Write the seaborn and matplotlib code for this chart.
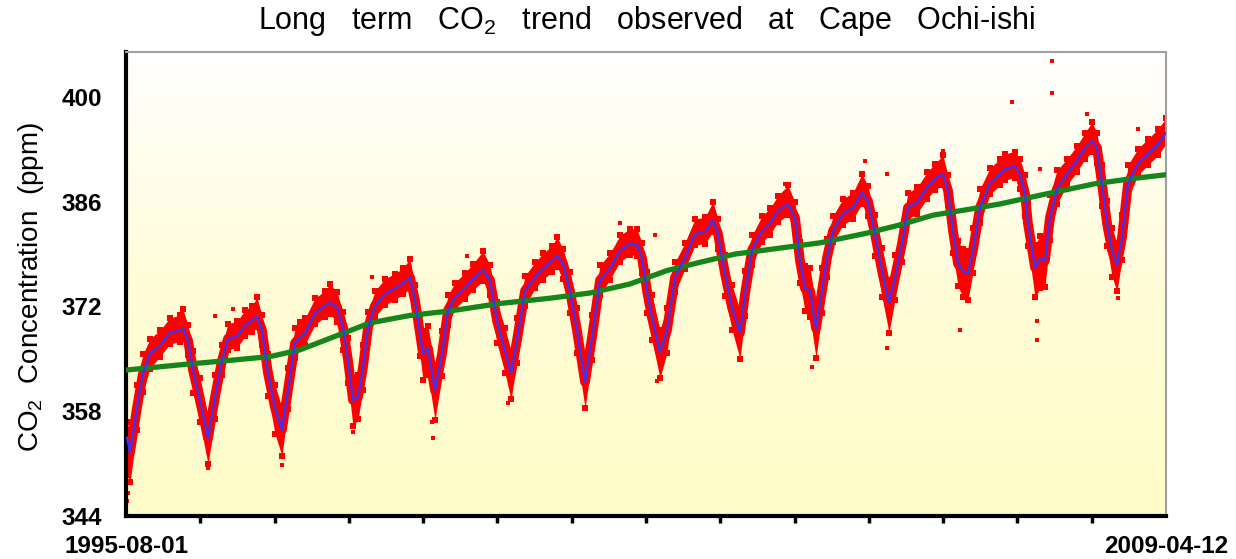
import numpy as np
import pandas as pd
import seaborn as sns
import matplotlib.pyplot as plt
from matplotlib.colors import LinearSegmentedColormap

# smoothed (blue) curve, one line per seasonal cycle
BLUE_YEAR = [
    1995.594, 1995.634, 1995.726, 1995.805, 1995.897, 1996.029, 1996.160, 1996.292, 1996.332, 1996.397, 1996.463, 1996.555, 1996.661,
    1996.753, 1996.845, 1996.924, 1997.043, 1997.148, 1997.240, 1997.306, 1997.372, 1997.451, 1997.543, 1997.635,
    1997.714, 1997.807, 1997.872, 1997.938, 1998.070, 1998.202, 1998.267, 1998.360, 1998.439, 1998.505, 1998.570,
    1998.636, 1998.702, 1998.768, 1998.860, 1998.992, 1999.123, 1999.229, 1999.321, 1999.387, 1999.453, 1999.492, 1999.558, 1999.650,
    1999.743, 1999.822, 1999.914, 2000.045, 2000.151, 2000.283, 2000.375, 2000.467, 2000.572, 2000.651,
    2000.730, 2000.836, 2000.967, 2001.073, 2001.191, 2001.257, 2001.336, 2001.428, 2001.520, 2001.626,
    2001.718, 2001.823, 2001.955, 2002.087, 2002.219, 2002.311, 2002.376, 2002.442, 2002.508, 2002.613,
    2002.705, 2002.811, 2002.942, 2003.074, 2003.206, 2003.311, 2003.377, 2003.469, 2003.561, 2003.667,
    2003.733, 2003.825, 2003.957, 2004.062, 2004.167, 2004.299, 2004.391, 2004.457, 2004.523, 2004.589, 2004.668,
    2004.747, 2004.813, 2004.892, 2005.023, 2005.155, 2005.273, 2005.352, 2005.444, 2005.537, 2005.629,
    2005.708, 2005.800, 2005.879, 2005.998, 2006.129, 2006.235, 2006.340, 2006.406, 2006.472, 2006.538, 2006.604, 2006.669,
    2006.735, 2006.827, 2006.959, 2007.091, 2007.157, 2007.288, 2007.354, 2007.420, 2007.459, 2007.552, 2007.617, 2007.683,
    2007.749, 2007.841, 2007.973, 2008.105, 2008.210, 2008.302, 2008.368, 2008.434, 2008.500, 2008.566, 2008.631,
    2008.697, 2008.776, 2008.908, 2009.040, 2009.171, 2009.277,
]
BLUE_PPM = [
    354.5, 352.5, 358.5, 363.1, 365.7, 366.8, 368.5, 368.8, 369.1, 367.5, 363.5, 359.5, 354.4,
    359.9, 364.8, 367.7, 368.0, 369.5, 370.1, 370.7, 368.8, 363.1, 358.5, 355.5,
    360.8, 367.1, 367.9, 368.4, 371.1, 372.1, 372.5, 371.9, 369.2, 364.8, 359.5,
    359.9, 363.9, 369.2, 372.1, 373.7, 374.4, 375.1, 375.9, 372.8, 368.4, 365.7, 366.4, 360.8,
    365.7, 371.5, 373.2, 374.5, 375.7, 376.9, 375.5, 370.1, 366.1, 363.1,
    367.5, 374.1, 375.9, 377.1, 378.1, 378.8, 377.7, 374.1, 368.8, 361.9,
    367.9, 375.5, 377.1, 379.5, 380.4, 380.3, 378.5, 374.1, 370.5, 365.9,
    368.8, 375.9, 378.5, 381.7, 381.9, 383.5, 381.7, 376.4, 371.9, 368.5,
    373.7, 379.5, 382.1, 383.1, 384.8, 385.7, 383.9, 378.1, 374.4, 374.1, 369.1,
    374.1, 378.5, 382.1, 384.4, 385.2, 387.2, 386.1, 381.7, 376.8, 372.5,
    375.9, 380.4, 385.2, 385.9, 387.9, 389.1, 389.7, 387.5, 382.1, 377.7, 376.7, 376.4,
    379.5, 385.2, 388.5, 389.7, 390.4, 390.7, 389.7, 387.1, 383.1, 377.2, 378.4, 378.1,
    383.9, 387.7, 389.7, 391.5, 393.2, 394.1, 393.2, 388.4, 383.1, 379.5, 377.5,
    381.2, 388.4, 391.1, 392.4, 393.7, 395.2,
]
# spread of the red daily points above / below the blue curve
RED_UP = [
    2, 3, 3, 2.5, 2, 2, 2, 2, 2.5, 2, 2.5, 3, 3,
    3, 2, 2, 2, 2, 2, 2.5, 2, 2.5, 3, 3,
    3, 2, 2, 2, 2, 2, 2.5, 2, 2, 3, 3,
    3, 3, 2, 2, 2, 2, 2, 2.5, 2, 2.5, 3, 3, 3,
    3, 2, 2, 2, 2, 2.5, 2, 2.5, 3, 3,
    3, 2, 2, 2, 2, 2.5, 2, 2.5, 3, 3,
    3, 2, 2, 2, 2, 2, 2, 2.5, 3, 3,
    3, 2, 2, 2, 2, 2.5, 2, 2.5, 3, 3,
    3, 2, 2, 2, 2, 2.5, 2, 2.5, 3, 3, 3,
    3, 2.5, 2, 2, 2, 2.5, 2, 2.5, 3, 3,
    3, 2.5, 2, 2, 2, 2, 2.5, 2, 2.5, 3, 3, 3,
    3, 2.5, 2, 2, 2, 2, 2, 2.5, 3, 3, 3, 3,
    3, 2.5, 2, 2, 2, 2.5, 2, 2.5, 3, 3, 3,
    3, 2.5, 2, 2, 2, 2,
]
RED_DN = [
    5, 4, 3, 2.5, 2, 1.5, 1.5, 1.5, 1.5, 2, 3, 3, 3.5,
    3, 2, 1.5, 1.5, 1.5, 1.5, 1.5, 2, 3, 3.5, 3.5,
    2.5, 2, 1.5, 1.5, 1.5, 1.5, 1.5, 2, 3, 3, 3.5,
    3, 3, 2, 1.5, 1.5, 1.5, 1.5, 1.5, 2, 3, 3.5, 3.5, 4,
    3, 2, 1.5, 1.5, 1.5, 1.5, 2, 3, 3, 3.5,
    3, 2, 1.5, 1.5, 1.5, 1.5, 2, 3, 3, 3.5,
    3, 2, 1.5, 1.5, 1.5, 1.5, 2, 3, 3, 3.5,
    3, 2, 1.5, 1.5, 1.5, 1.5, 2, 3, 3, 3.5,
    3, 2, 1.5, 1.5, 1.5, 1.5, 2, 3, 3, 3.5, 4,
    3, 2.5, 1.5, 1.5, 1.5, 1.5, 2, 3, 3.5, 4,
    3, 2.5, 1.5, 1.5, 1.5, 1.5, 1.5, 2, 3, 3, 3.5, 3.5,
    3, 2, 1.5, 1.5, 1.5, 1.5, 2, 3, 3, 4, 4, 3.5,
    3, 2, 1.5, 1.5, 1.5, 1.5, 2, 3, 3, 3.5, 3.5,
    3, 2, 1.5, 1.5, 1.5, 1.5,
]

# isolated red points away from the band
OUT_YEAR = [2007.775, 2007.775, 2007.249, 1998.570, 1999.624, 1999.610, 2005.603, 2007.578, 2007.578,
            2006.560, 2008.645, 1996.661, 1995.607, 1995.600, 1997.635, 2000.611, 2001.626, 2002.574,
            2003.667, 2004.615, 2000.072, 2002.087, 2004.260, 2006.340, 2008.236, 2002.547, 1998.820,
            1996.990, 1996.753, 2008.908, 2005.313, 2005.603, 2007.617]
OUT_PPM = [404.8, 400.5, 399.3, 355.2, 354.4, 356.5, 366.4, 370.1, 367.5,
           368.8, 373.1, 350.4, 347.1, 346.0, 350.8, 359.1, 358.5, 362.1,
           364.8, 363.9, 378.8, 383.1, 388.4, 392.8, 397.7, 381.5, 375.9,
           371.7, 370.7, 395.7, 391.5, 389.7, 390.4]

# long term trend (green)
TREND_YEAR = [1995.581, 1996.292, 1996.951, 1997.477, 1997.872, 1998.307, 1998.794, 1999.321, 1999.848,
              2000.506, 2001.165, 2001.691, 2002.218, 2002.706, 2003.140, 2003.601, 2004.194, 2004.720,
              2005.339, 2005.774, 2006.209, 2006.696, 2007.091, 2007.683, 2008.342, 2008.842, 2009.277]
TREND_PPM = [363.5, 364.2, 364.8, 365.3, 366.2, 367.9, 369.8, 370.8, 371.4,
             372.4, 373.1, 373.8, 375.0, 376.8, 377.9, 379.0, 379.8, 380.5,
             381.8, 382.9, 384.2, 385.0, 385.7, 387.0, 388.4, 389.1, 389.6]

X_START, X_END = 1995.581, 2009.277
X_LABELS = ["1995-08-01", "2009-04-12"]
Y_TICKS = [344, 358, 372, 386, 400]
Y_MIN, Y_MAX = 344, 406

sns.set_style("white")
plt.rcParams["font.family"] = ["Liberation Sans", "DejaVu Sans"]
plt.rcParams["mathtext.default"] = "regular"
plt.rcParams["text.color"] = "black"

df = pd.DataFrame({"year": BLUE_YEAR, "ppm": BLUE_PPM, "up": RED_UP, "dn": RED_DN})
df["hi"] = df["ppm"] + df["up"]
df["lo"] = df["ppm"] - df["dn"]
trend = pd.DataFrame({"year": TREND_YEAR, "ppm": TREND_PPM})
out = pd.DataFrame({"year": OUT_YEAR, "ppm": OUT_PPM})

fig = plt.figure(figsize=(12.36, 5.59), dpi=100)
ax = fig.add_axes([126 / 1236, 43 / 559, 1040 / 1236, 464 / 559])

# white-to-pale-yellow background
grad = np.linspace(0, 1, 256).reshape(-1, 1)
bg = LinearSegmentedColormap.from_list("bg", ["#ffffff", "#fffdd8", "#fffcc8"])
ax.imshow(grad, extent=[X_START, X_END, Y_MIN, Y_MAX], origin="upper",
          aspect="auto", cmap=bg, zorder=0)

# daily data: red band with speckled edges
RED = "#ff0000"
ax.fill_between(df["year"], df["lo"], df["hi"], color=RED, lw=0, zorder=2)
sns.lineplot(data=df, x="year", y="ppm", color=RED, lw=7, ax=ax, zorder=2)
for col in ["hi", "lo"]:
    sns.scatterplot(x=df["year"], y=df[col], marker="s", s=14, color=RED, linewidth=0, ax=ax, zorder=2)
sns.scatterplot(data=out, x="year", y="ppm", marker="s", s=12, color=RED, linewidth=0, ax=ax, zorder=2)

sns.lineplot(data=trend, x="year", y="ppm", color="#16851a", lw=3.8, ax=ax, zorder=3)
sns.lineplot(data=df, x="year", y="ppm", color="#3535ff", lw=1.6, ax=ax, zorder=4)

ax.set_xlim(X_START, X_END)
ax.set_ylim(Y_MIN, Y_MAX)
ax.set_xlabel("")
ax.set_ylabel("")

ax.set_yticks(Y_TICKS)
ax.set_xticks([X_START, X_END])
ax.set_xticklabels(X_LABELS)
ax.set_xticks(np.linspace(X_START, X_END, 15)[1:-1], minor=True)
ax.tick_params(axis="y", length=9, width=2.5, direction="out", pad=8, labelsize=17.5,
               colors="black", labelcolor="black")
ax.tick_params(axis="x", which="major", length=11, width=3, direction="out", pad=3, labelsize=17.5,
               colors="black", labelcolor="black")
ax.tick_params(axis="x", which="minor", length=5, width=2.5, direction="out", bottom=True, colors="black")
for lbl in ax.get_xticklabels() + ax.get_yticklabels():
    lbl.set_fontweight("bold")

for s in ["left", "bottom"]:
    ax.spines[s].set_color("black")
    ax.spines[s].set_linewidth(3)
for s in ["top", "right"]:
    ax.spines[s].set_color("#a0a0a0")
    ax.spines[s].set_linewidth(1.5)

fig.text(647 / 1236, 1 - 21 / 559, "Long   term   CO$_2$   trend   observed   at   Cape   Ochi-ishi",
         ha="center", va="center", fontsize=22, color="black")
fig.text(31 / 1236, 1 - 287 / 559, "CO$_2$  Concentration  (ppm)", rotation=90,
         ha="center", va="center", fontsize=20, color="black")

fig.savefig("out.png", dpi=100)
